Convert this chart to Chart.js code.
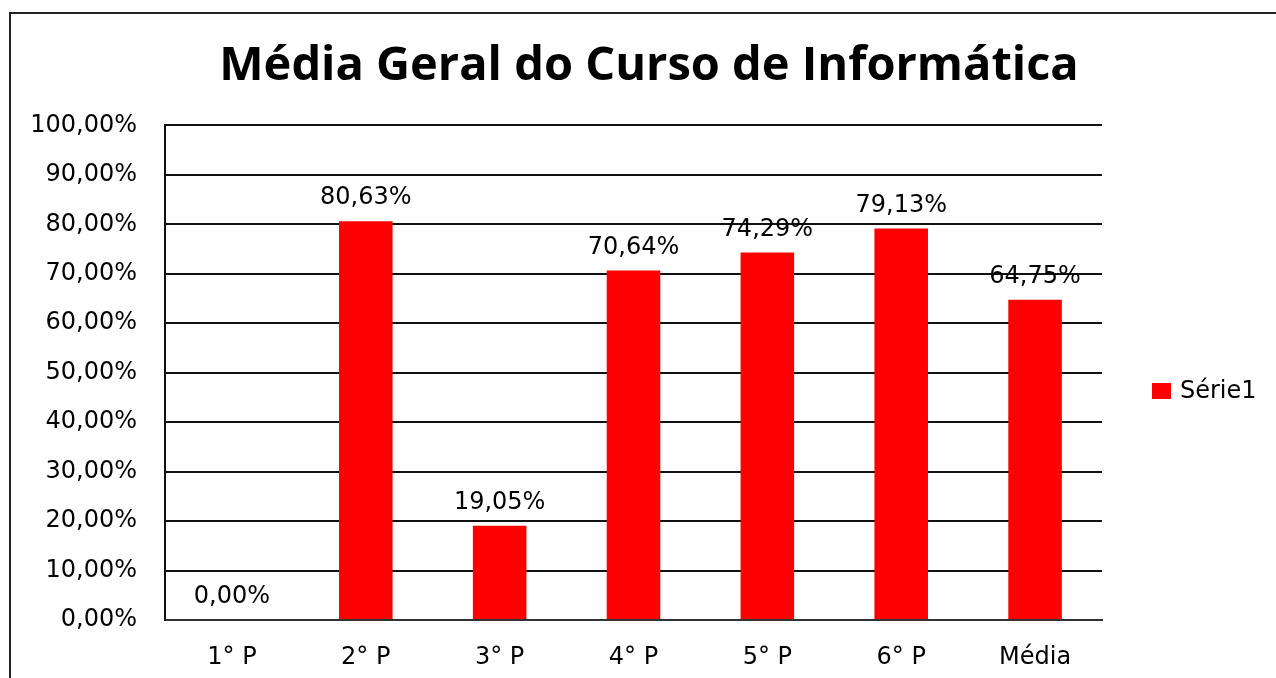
<!DOCTYPE html>
<html lang="pt">
  <head>
    <meta charset="UTF-8" />
    <title>Média Geral do Curso de Informática</title>
    <script src="https://cdn.jsdelivr.net/npm/chart.js@4.4.0/dist/chart.umd.min.js"></script>
    <style>
      html, body { margin: 0; padding: 0; background: #fff; overflow: hidden; }
      #frame { position: absolute; left: 9px; top: 12px; width: 2000px; height: 2000px;
               border: 2px solid #222; box-sizing: border-box; }
      #wrap { position: absolute; left: 0; top: 0; width: 1276px; height: 678px; }
    </style>
  </head>
  <body>
    <div id="frame"></div>
    <div id="wrap"><canvas id="myChart" width="1276" height="678"></canvas></div>
    <script>
      const categories = ['1° P', '2° P', '3° P', '4° P', '5° P', '6° P', 'Média'];
      const serie1 = [0, 80.63, 19.05, 70.64, 74.29, 79.13, 64.75];
      const yTicks = [0, 10, 20, 30, 40, 50, 60, 70, 80, 90, 100];

      const fmt = v => v.toFixed(2).replace('.', ',') + '%';
      const labelFont = '24px "DejaVu Sans"';

      // value labels above each bar
      const barLabels = {
        id: 'barLabels',
        afterDatasetsDraw(chart) {
          const ctx = chart.ctx;
          const meta = chart.getDatasetMeta(0);
          ctx.save();
          ctx.font = labelFont;
          ctx.fillStyle = '#000';
          ctx.textAlign = 'center';
          ctx.textBaseline = 'alphabetic';
          meta.data.forEach((bar, i) => {
            ctx.fillText(fmt(serie1[i]), bar.x, bar.y - 17);
          });
          ctx.restore();
        }
      };

      // legend on the right, a bit below the plot middle
      const sideLegend = {
        id: 'sideLegend',
        afterDraw(chart) {
          const ctx = chart.ctx;
          const ds = chart.data.datasets[0];
          ctx.save();
          ctx.fillStyle = ds.backgroundColor;
          ctx.fillRect(1152, 383, 19, 16);
          ctx.font = labelFont;
          ctx.fillStyle = '#000';
          ctx.textAlign = 'left';
          ctx.textBaseline = 'middle';
          ctx.fillText(ds.label, 1180, 392);
          ctx.restore();
        }
      };

      const ctx = document.getElementById('myChart').getContext('2d');
      const myChart = new Chart(ctx, {
        type: 'bar',
        data: {
          labels: categories,
          datasets: [{
            label: 'Série1',
            data: serie1,
            backgroundColor: '#ff0000',
            borderWidth: 0,
            categoryPercentage: 0.8,
            barPercentage: 0.5
          }]
        },
        options: {
          responsive: false,
          animation: false,
          layout: { padding: { top: 0, left: 22, right: 0, bottom: 0 } },
          plugins: {
            legend: { display: false },
            tooltip: { enabled: false },
            title: {
              display: true,
              text: 'Média Geral do Curso de Informática',
              color: '#000',
              font: { family: '"Open Sans"', size: 47, weight: 'bold' },
              padding: { top: 38, bottom: 31 }
            }
          },
          scales: {
            x: {
              grid: { display: false, drawTicks: false },
              border: { display: true, color: '#333', width: 2 },
              ticks: { color: '#000', font: { family: '"DejaVu Sans"', size: 24 }, padding: 23, maxRotation: 0 },
              afterFit(scale) { scale.height = 58; }
            },
            y: {
              min: 0,
              max: 100,
              afterBuildTicks(scale) { scale.ticks = yTicks.map(v => ({ value: v })); },
              grid: { color: '#111', lineWidth: 2, drawTicks: false },
              border: { display: true, color: '#111', width: 2 },
              ticks: { color: '#000', font: { family: '"DejaVu Sans"', size: 24 }, padding: 28,
                       callback: v => fmt(v) },
              afterFit(scale) { scale.width = 143; }
            },
            // empty right-hand space that holds the legend
            side: {
              type: 'linear',
              position: 'right',
              display: true,
              grid: { display: false, drawTicks: false },
              border: { display: false },
              ticks: { display: false },
              afterFit(scale) { scale.width = 174; }
            }
          }
        },
        plugins: [barLabels, sideLegend]
      });
    </script>
  </body>
</html>
